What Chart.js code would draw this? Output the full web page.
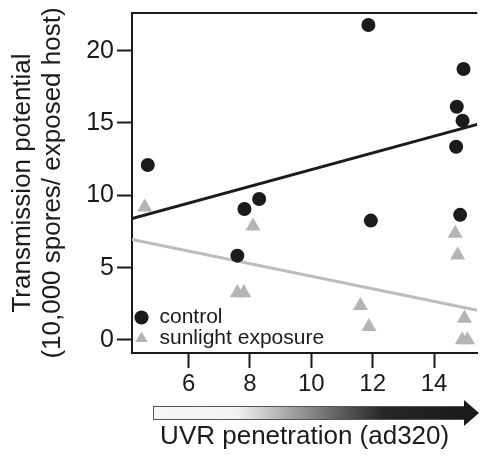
<!DOCTYPE html>
<html>
<head>
<meta charset="utf-8">
<script src="https://cdn.jsdelivr.net/npm/chart.js@4.4.1/dist/chart.umd.min.js"></script>
<style>
  html, body { margin: 0; padding: 0; background: #ffffff; }
  #wrap { width: 486px; height: 456px; }
</style>
</head>
<body>
<div id="wrap"><canvas id="c" width="486" height="456"></canvas></div>
<script>
// ---- data ----
const controlX = [4.67, 7.59, 7.82, 8.30, 11.86, 11.94, 14.72, 14.74, 14.85, 14.93, 14.96];
const controlY = [12.09, 5.83, 9.05, 9.74, 21.77, 8.25, 13.36, 16.12, 8.65, 15.16, 18.73];
const sunX = [4.57, 7.59, 7.80, 8.10, 11.60, 11.88, 14.69, 14.77, 14.99, 14.92, 15.09];
const sunY = [9.18, 3.26, 3.26, 7.86, 2.37, 0.92, 7.37, 5.87, 1.50, 0.00, 0.00];
// fitted lines (end points)
const fitX = [4.156, 15.41];
const controlFitY = [8.40, 14.90];
const sunFitY = [6.94, 2.05];
// ticks
const xTicks = [6, 8, 10, 12, 14];
const yTicks = [0, 5, 10, 15, 20];
const seriesNames = ['control', 'sunlight exposure'];
const xTitle = 'UVR penetration (ad320)';
const yTitle = ['Transmission potential', '(10,000 spores/ exposed host)'];

const pts = (xs, ys) => xs.map((x, i) => ({x: x, y: ys[i]}));

const FONT = "'Liberation Sans', Arial, Helvetica, sans-serif";
const INK = '#1c1a1b';
const GREY = '#b5b5b5';

// place the in-plot legend in the lower-left corner of the plot area
const legendPlace = {
  id: 'legendPlace',
  afterLayout(chart) {
    const l = chart.legend;
    const a = chart.chartArea;
    if (!l) return;
    const w = l.width;
    l.left = a.left + 2;
    l.right = l.left + w;
    const h = l.height;
    l.bottom = a.bottom - 4;
    l.top = l.bottom - h;
  }
};

const decor = {
  id: 'decor',
  afterDraw(chart) {
    const ctx = chart.ctx;
    const a = chart.chartArea;
    ctx.save();
    // top frame line
    ctx.strokeStyle = INK;
    ctx.lineWidth = 2;
    ctx.beginPath();
    ctx.moveTo(a.left - 1, a.top);
    ctx.lineTo(a.right, a.top);
    ctx.stroke();
    // gradient arrow under the x axis
    const x0 = 153, x1 = 465, xt = 479, yT = 406, yB = 420;
    const g = ctx.createLinearGradient(x0, 0, x1, 0);
    g.addColorStop(0, '#f6f6f6');
    g.addColorStop(0.27, '#f2f2f2');
    g.addColorStop(0.45, '#a0a0a0');
    g.addColorStop(0.62, '#555555');
    g.addColorStop(0.74, '#262626');
    g.addColorStop(1, '#1c1a1b');
    ctx.fillStyle = g;
    ctx.fillRect(x0, yT, x1 - x0, yB - yT);
    ctx.strokeStyle = '#555';
    ctx.lineWidth = 1;
    ctx.strokeRect(x0 + 0.5, yT + 0.5, x1 - x0, yB - yT - 1);
    ctx.fillStyle = INK;
    ctx.beginPath();
    ctx.moveTo(x1 - 1, yT - 6);
    ctx.lineTo(xt, (yT + yB) / 2);
    ctx.lineTo(x1 - 1, yB + 6);
    ctx.closePath();
    ctx.fill();
    ctx.restore();
  }
};

new Chart(document.getElementById('c'), {
  data: {
    datasets: [
      {
        type: 'scatter', label: seriesNames[0], data: pts(controlX, controlY),
        pointStyle: 'circle', pointRadius: 7, pointHoverRadius: 7,
        backgroundColor: INK, borderColor: INK, borderWidth: 0
      },
      {
        type: 'scatter', label: seriesNames[1], data: pts(sunX, sunY),
        pointStyle: 'triangle', pointRadius: 8.7, pointHoverRadius: 8.7,
        backgroundColor: GREY, borderColor: GREY, borderWidth: 0
      },
      {
        type: 'line', label: 'fit control', data: pts(fitX, controlFitY),
        borderColor: INK, borderWidth: 3, pointRadius: 0, fill: false
      },
      {
        type: 'line', label: 'fit sunlight', data: pts(fitX, sunFitY),
        borderColor: '#bcbcbc', borderWidth: 3, pointRadius: 0, fill: false
      }
    ]
  },
  options: {
    responsive: false,
    animation: false,
    devicePixelRatio: 1,
    layout: { padding: { top: 13, left: 0, right: 0, bottom: 0 } },
    plugins: {
      tooltip: { enabled: false },
      legend: {
        position: 'chartArea',
        align: 'end',
        labels: {
          filter: (item) => item.datasetIndex < 2,
          usePointStyle: true,
          boxWidth: 15,
          boxHeight: 10,
          padding: 0,
          color: INK,
          font: { family: FONT, size: 21 }
        }
      }
    },
    scales: {
      x: {
        type: 'linear',
        position: 'bottom',
        min: fitX[0],
        max: fitX[1],
        afterBuildTicks: (axis) => { axis.ticks = xTicks.map(v => ({value: v})); },
        afterFit: (axis) => { axis.height = 103; axis.paddingLeft = 0; axis.paddingRight = 0; },
        border: { display: true, color: INK, width: 2 },
        grid: { drawOnChartArea: false, drawTicks: true, tickLength: 15, tickColor: INK, tickWidth: 2 },
        ticks: { color: INK, padding: 2, font: { family: FONT, size: 24 } },
        title: {
          display: true, text: xTitle, color: INK,
          font: { family: FONT, size: 26, lineHeight: 1.15 },
          padding: { top: 0, bottom: 4 }
        }
      },
      y: {
        type: 'linear',
        position: 'left',
        min: -0.9,
        max: 22.6,
        afterBuildTicks: (axis) => { axis.ticks = yTicks.map(v => ({value: v})); },
        afterFit: (axis) => { axis.width = 132; axis.paddingTop = 0; axis.paddingBottom = 0; },
        border: { display: true, color: INK, width: 2 },
        grid: { drawOnChartArea: false, drawTicks: true, tickLength: 15, tickColor: INK, tickWidth: 2 },
        ticks: { color: INK, padding: 3, font: { family: FONT, size: 25 } },
        title: {
          display: true, text: yTitle, color: INK,
          font: { family: FONT, size: 26, lineHeight: 1.15 },
          padding: { top: 8, bottom: 0 }
        }
      }
    }
  },
  plugins: [legendPlace, decor]
});
</script>
</body>
</html>
